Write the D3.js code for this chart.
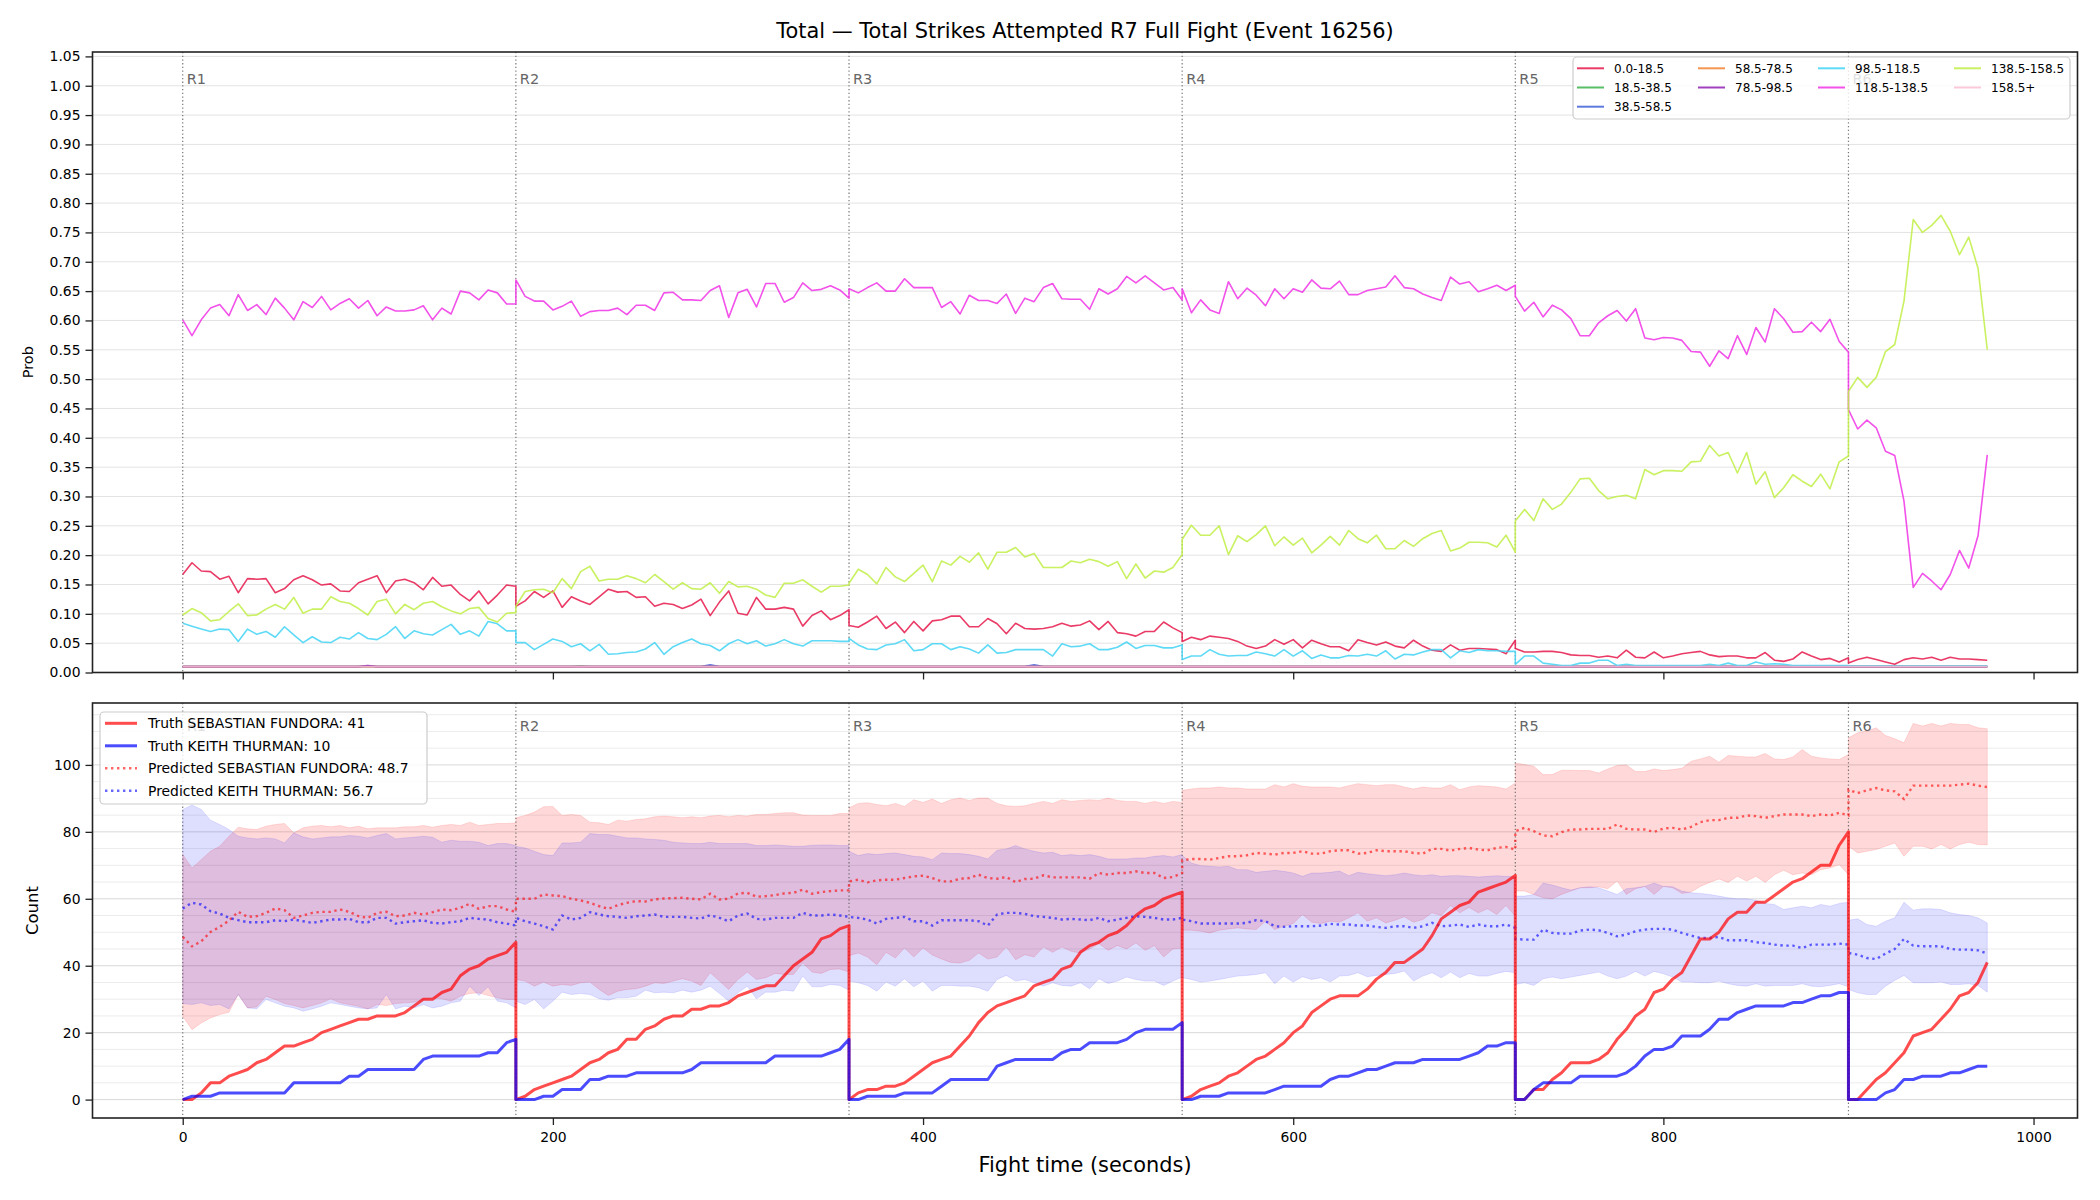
<!DOCTYPE html>
<html><head><meta charset="utf-8">
<script src="https://cdn.jsdelivr.net/npm/d3@7"></script>
<style>body{margin:0;background:#fff}svg{display:block}text{font-family:"DejaVu Sans",sans-serif}</style>
</head><body><svg id="c" width="2100" height="1200"></svg>
<script>
// ---------------- DATA ----------------
const TITLE = "Total \u2014 Total Strikes Attempted R7 Full Fight (Event 16256)";
const ROUND_STARTS = [0,180,360,540,720,900];
const ROUND_NAMES = ["R1","R2","R3","R4","R5","R6"];
const STEP = 5;
const X_TICKS = [0,200,400,600,800,1000];
const TOP_Y_TICKS = [0,0.05,0.10,0.15,0.20,0.25,0.30,0.35,0.40,0.45,0.50,0.55,0.60,0.65,0.70,0.75,0.80,0.85,0.90,0.95,1.00,1.05];
const BOT_Y_TICKS = [0,20,40,60,80,100];
const BINS = ["0.0-18.5","18.5-38.5","38.5-58.5","58.5-78.5","78.5-98.5","98.5-118.5","118.5-138.5","138.5-158.5","158.5+"];
const BIN_COLORS = ["#e6194b","#3cb44b","#4363d8","#f58231","#911eb4","#42d4f4","#f032e6","#bfef45","#fabed4"];

const prob_0_18 = [
[0.167,0.187,0.173,0.172,0.159,0.164,0.136,0.160,0.159,0.160,0.136,0.143,0.158,0.165,0.158,0.149,0.151,0.139,0.138,0.153,0.159,0.165,0.136,0.156,0.159,0.153,0.141,0.162,0.147,0.149,0.133,0.122,0.139,0.117,0.132,0.149,0.147],
[0.113,0.122,0.138,0.128,0.139,0.111,0.129,0.122,0.116,0.129,0.142,0.137,0.138,0.128,0.129,0.113,0.118,0.116,0.109,0.115,0.125,0.097,0.120,0.139,0.101,0.098,0.128,0.108,0.108,0.111,0.108,0.079,0.097,0.105,0.090,0.097,0.107],
[0.080,0.077,0.086,0.096,0.075,0.086,0.068,0.087,0.071,0.088,0.090,0.096,0.096,0.078,0.078,0.092,0.083,0.066,0.084,0.075,0.074,0.075,0.078,0.084,0.079,0.081,0.088,0.073,0.087,0.068,0.066,0.062,0.070,0.070,0.086,0.076,0.068],
[0.053,0.060,0.056,0.062,0.060,0.058,0.053,0.045,0.041,0.045,0.056,0.048,0.056,0.042,0.055,0.049,0.044,0.044,0.037,0.056,0.051,0.047,0.052,0.045,0.042,0.055,0.045,0.038,0.036,0.047,0.038,0.041,0.041,0.040,0.039,0.032,0.055],
[0.041,0.035,0.035,0.036,0.036,0.034,0.030,0.029,0.029,0.026,0.028,0.025,0.038,0.026,0.025,0.035,0.025,0.028,0.032,0.034,0.036,0.030,0.027,0.028,0.028,0.025,0.025,0.034,0.021,0.019,0.023,0.035,0.028,0.022,0.024,0.018,0.025],
[0.016,0.022,0.026,0.022,0.018,0.014,0.022,0.025,0.023,0.026,0.021,0.026,0.023,0.023,0.022,0.021]];
const prob_18_38 = [
[0.010,0.010,0.010,0.010,0.010,0.010,0.010,0.010,0.010,0.010,0.010,0.010,0.010,0.010,0.010,0.010,0.010,0.010,0.010,0.010,0.010,0.010,0.010,0.010,0.010,0.010,0.010,0.010,0.010,0.010,0.010,0.010,0.010,0.010,0.010,0.010,0.010],
[0.010,0.010,0.010,0.010,0.010,0.010,0.010,0.011,0.010,0.010,0.010,0.010,0.010,0.010,0.010,0.010,0.010,0.010,0.010,0.010,0.010,0.010,0.010,0.010,0.010,0.010,0.010,0.010,0.010,0.010,0.010,0.010,0.010,0.010,0.010,0.010,0.010],
[0.010,0.010,0.010,0.010,0.010,0.010,0.010,0.010,0.010,0.010,0.010,0.010,0.010,0.010,0.010,0.010,0.010,0.010,0.010,0.010,0.010,0.010,0.010,0.010,0.010,0.010,0.010,0.010,0.010,0.010,0.010,0.010,0.010,0.010,0.010,0.010,0.010],
[0.010,0.010,0.010,0.010,0.010,0.010,0.010,0.010,0.010,0.010,0.010,0.010,0.010,0.010,0.010,0.010,0.010,0.010,0.010,0.010,0.010,0.010,0.010,0.010,0.010,0.010,0.010,0.010,0.010,0.010,0.010,0.010,0.010,0.010,0.010,0.010,0.010],
[0.010,0.010,0.010,0.010,0.010,0.010,0.010,0.010,0.010,0.010,0.010,0.010,0.010,0.010,0.010,0.010,0.010,0.010,0.010,0.010,0.010,0.010,0.010,0.010,0.010,0.010,0.010,0.010,0.010,0.010,0.010,0.010,0.010,0.010,0.010,0.010,0.010],
[0.010,0.010,0.010,0.010,0.010,0.010,0.010,0.010,0.010,0.010,0.010,0.010,0.010,0.010,0.010,0.010]];
const prob_38_58 = [
[0.010,0.010,0.010,0.010,0.010,0.010,0.010,0.010,0.010,0.010,0.010,0.010,0.010,0.010,0.010,0.010,0.010,0.010,0.010,0.010,0.010,0.010,0.010,0.010,0.010,0.010,0.010,0.010,0.010,0.010,0.010,0.010,0.010,0.010,0.010,0.010,0.010],
[0.010,0.010,0.010,0.010,0.010,0.010,0.010,0.010,0.010,0.010,0.010,0.010,0.010,0.010,0.010,0.010,0.010,0.010,0.010,0.010,0.010,0.013,0.010,0.010,0.010,0.010,0.010,0.010,0.010,0.010,0.010,0.010,0.010,0.010,0.010,0.010,0.010],
[0.010,0.010,0.010,0.010,0.010,0.010,0.010,0.010,0.010,0.010,0.010,0.010,0.010,0.010,0.010,0.010,0.010,0.010,0.010,0.010,0.013,0.010,0.010,0.010,0.010,0.010,0.010,0.010,0.010,0.010,0.010,0.010,0.010,0.010,0.010,0.010,0.010],
[0.010,0.010,0.010,0.010,0.010,0.010,0.010,0.010,0.010,0.010,0.010,0.010,0.010,0.010,0.010,0.010,0.010,0.010,0.010,0.010,0.010,0.010,0.010,0.010,0.010,0.010,0.010,0.010,0.010,0.010,0.010,0.010,0.010,0.010,0.010,0.010,0.010],
[0.010,0.010,0.010,0.010,0.010,0.010,0.010,0.010,0.010,0.010,0.010,0.010,0.010,0.010,0.010,0.010,0.010,0.010,0.010,0.010,0.010,0.010,0.010,0.010,0.010,0.010,0.010,0.010,0.010,0.010,0.010,0.010,0.010,0.010,0.010,0.010,0.010],
[0.010,0.010,0.010,0.010,0.010,0.010,0.010,0.010,0.010,0.010,0.010,0.010,0.010,0.010,0.010,0.010]];
const prob_58_78 = [
[0.010,0.010,0.010,0.010,0.010,0.010,0.010,0.010,0.010,0.010,0.010,0.010,0.010,0.010,0.010,0.010,0.010,0.010,0.010,0.010,0.010,0.010,0.010,0.010,0.010,0.010,0.010,0.010,0.010,0.010,0.010,0.010,0.010,0.010,0.010,0.010,0.010],
[0.010,0.010,0.010,0.010,0.010,0.010,0.010,0.010,0.010,0.010,0.010,0.010,0.010,0.010,0.010,0.010,0.010,0.010,0.010,0.010,0.010,0.010,0.010,0.010,0.010,0.010,0.010,0.010,0.010,0.010,0.010,0.010,0.010,0.010,0.010,0.010,0.010],
[0.010,0.010,0.010,0.010,0.010,0.010,0.010,0.010,0.010,0.010,0.010,0.010,0.010,0.010,0.010,0.010,0.010,0.010,0.010,0.010,0.010,0.010,0.010,0.010,0.010,0.010,0.010,0.010,0.010,0.010,0.010,0.010,0.010,0.010,0.010,0.010,0.010],
[0.010,0.010,0.010,0.010,0.010,0.010,0.010,0.010,0.010,0.010,0.010,0.010,0.010,0.010,0.010,0.010,0.010,0.010,0.010,0.010,0.010,0.010,0.010,0.010,0.010,0.010,0.010,0.010,0.010,0.010,0.010,0.010,0.010,0.010,0.010,0.010,0.010],
[0.010,0.010,0.010,0.010,0.010,0.010,0.010,0.010,0.010,0.010,0.010,0.010,0.010,0.010,0.010,0.010,0.010,0.010,0.010,0.010,0.010,0.010,0.010,0.010,0.010,0.010,0.010,0.010,0.010,0.010,0.010,0.010,0.010,0.010,0.010,0.010,0.010],
[0.010,0.010,0.010,0.010,0.010,0.010,0.010,0.010,0.010,0.010,0.010,0.010,0.010,0.010,0.010,0.010]];
const prob_78_98 = [
[0.010,0.010,0.010,0.010,0.010,0.010,0.010,0.010,0.010,0.010,0.010,0.010,0.010,0.010,0.010,0.010,0.010,0.010,0.010,0.010,0.012,0.010,0.010,0.010,0.010,0.010,0.010,0.010,0.010,0.010,0.010,0.010,0.010,0.010,0.010,0.010,0.010],
[0.010,0.010,0.010,0.010,0.010,0.010,0.010,0.010,0.010,0.010,0.010,0.010,0.010,0.010,0.010,0.010,0.010,0.010,0.010,0.010,0.010,0.010,0.010,0.010,0.010,0.010,0.010,0.010,0.010,0.010,0.010,0.010,0.010,0.010,0.010,0.010,0.010],
[0.010,0.010,0.010,0.010,0.010,0.010,0.010,0.010,0.010,0.010,0.010,0.010,0.010,0.010,0.010,0.010,0.010,0.010,0.010,0.010,0.010,0.010,0.010,0.010,0.010,0.010,0.010,0.010,0.010,0.010,0.010,0.010,0.010,0.010,0.010,0.010,0.010],
[0.010,0.010,0.010,0.010,0.010,0.010,0.010,0.010,0.010,0.010,0.010,0.010,0.010,0.010,0.010,0.010,0.010,0.010,0.010,0.010,0.010,0.010,0.010,0.010,0.010,0.010,0.010,0.010,0.010,0.010,0.010,0.010,0.010,0.010,0.010,0.010,0.010],
[0.010,0.010,0.010,0.010,0.010,0.010,0.010,0.010,0.010,0.010,0.010,0.010,0.010,0.010,0.010,0.010,0.010,0.010,0.010,0.010,0.010,0.010,0.010,0.010,0.010,0.010,0.010,0.010,0.010,0.010,0.010,0.010,0.010,0.010,0.010,0.010,0.010],
[0.010,0.010,0.010,0.010,0.010,0.010,0.010,0.010,0.010,0.010,0.010,0.010,0.010,0.010,0.010,0.010]];
const prob_98_118 = [
[0.084,0.079,0.074,0.070,0.074,0.073,0.053,0.074,0.065,0.070,0.060,0.078,0.064,0.051,0.061,0.052,0.051,0.060,0.057,0.068,0.058,0.056,0.065,0.078,0.058,0.071,0.066,0.064,0.073,0.082,0.065,0.071,0.062,0.087,0.083,0.071,0.071],
[0.051,0.051,0.039,0.048,0.057,0.053,0.044,0.049,0.037,0.048,0.031,0.032,0.034,0.035,0.040,0.051,0.031,0.044,0.051,0.057,0.049,0.046,0.037,0.049,0.056,0.049,0.054,0.045,0.049,0.056,0.049,0.045,0.054,0.054,0.054,0.053,0.053],
[0.058,0.047,0.040,0.039,0.047,0.049,0.056,0.037,0.039,0.049,0.049,0.039,0.044,0.040,0.033,0.047,0.033,0.034,0.039,0.039,0.039,0.039,0.028,0.049,0.044,0.045,0.049,0.039,0.039,0.043,0.052,0.041,0.046,0.046,0.042,0.042,0.047],
[0.022,0.028,0.028,0.039,0.031,0.028,0.029,0.029,0.035,0.032,0.028,0.039,0.028,0.037,0.024,0.030,0.025,0.025,0.029,0.028,0.031,0.028,0.037,0.023,0.031,0.030,0.035,0.039,0.039,0.025,0.037,0.034,0.039,0.037,0.037,0.036,0.036],
[0.014,0.028,0.028,0.016,0.014,0.012,0.012,0.016,0.016,0.021,0.021,0.012,0.014,0.012,0.012,0.012,0.012,0.012,0.012,0.012,0.012,0.014,0.012,0.016,0.012,0.012,0.018,0.014,0.015,0.014,0.012,0.012,0.012,0.012,0.012,0.012,0.012],
[0.011,0.011,0.011,0.011,0.011,0.011,0.011,0.011,0.011,0.011,0.011,0.011,0.011,0.011,0.011,0.011]];
const prob_118_138 = [
[0.601,0.574,0.601,0.621,0.627,0.608,0.644,0.617,0.627,0.610,0.638,0.621,0.601,0.632,0.622,0.641,0.618,0.629,0.637,0.621,0.634,0.608,0.623,0.616,0.616,0.618,0.625,0.601,0.621,0.611,0.650,0.647,0.635,0.652,0.647,0.628,0.628],
[0.669,0.641,0.633,0.633,0.618,0.624,0.633,0.607,0.615,0.617,0.617,0.621,0.610,0.626,0.626,0.617,0.647,0.648,0.635,0.635,0.634,0.651,0.659,0.605,0.647,0.653,0.623,0.663,0.663,0.631,0.639,0.664,0.651,0.653,0.659,0.652,0.638],
[0.654,0.647,0.656,0.664,0.650,0.650,0.671,0.656,0.656,0.656,0.622,0.632,0.611,0.643,0.634,0.634,0.629,0.645,0.612,0.638,0.632,0.656,0.663,0.637,0.636,0.636,0.619,0.654,0.645,0.654,0.675,0.664,0.676,0.664,0.652,0.656,0.635],
[0.654,0.613,0.635,0.618,0.612,0.666,0.637,0.655,0.643,0.625,0.654,0.637,0.654,0.648,0.669,0.655,0.654,0.667,0.644,0.644,0.651,0.654,0.657,0.676,0.656,0.654,0.645,0.639,0.634,0.674,0.662,0.666,0.649,0.654,0.660,0.651,0.660],
[0.641,0.616,0.631,0.606,0.626,0.618,0.603,0.574,0.574,0.596,0.608,0.617,0.599,0.620,0.570,0.567,0.571,0.570,0.566,0.547,0.546,0.522,0.548,0.535,0.574,0.542,0.588,0.563,0.620,0.603,0.580,0.581,0.597,0.581,0.602,0.564,0.546],
[0.448,0.415,0.430,0.417,0.377,0.370,0.292,0.145,0.169,0.156,0.141,0.167,0.208,0.178,0.233,0.371]];
const prob_138_158 = [
[0.098,0.109,0.102,0.088,0.090,0.104,0.117,0.097,0.098,0.108,0.116,0.108,0.128,0.101,0.108,0.108,0.129,0.121,0.118,0.109,0.098,0.121,0.125,0.100,0.116,0.107,0.118,0.121,0.112,0.105,0.100,0.109,0.111,0.092,0.086,0.101,0.102],
[0.113,0.138,0.141,0.142,0.136,0.160,0.143,0.172,0.181,0.156,0.159,0.159,0.165,0.160,0.153,0.167,0.155,0.142,0.153,0.143,0.142,0.153,0.135,0.155,0.146,0.147,0.142,0.132,0.128,0.152,0.152,0.158,0.147,0.137,0.147,0.147,0.149],
[0.152,0.176,0.167,0.151,0.179,0.163,0.155,0.169,0.183,0.155,0.190,0.183,0.198,0.188,0.204,0.176,0.205,0.205,0.213,0.197,0.203,0.179,0.179,0.179,0.190,0.187,0.193,0.189,0.181,0.189,0.160,0.185,0.161,0.173,0.171,0.179,0.201],
[0.227,0.251,0.234,0.234,0.250,0.201,0.233,0.223,0.235,0.250,0.216,0.231,0.217,0.229,0.204,0.217,0.232,0.217,0.242,0.228,0.221,0.234,0.211,0.211,0.225,0.215,0.228,0.237,0.242,0.207,0.212,0.222,0.222,0.221,0.214,0.234,0.205],
[0.258,0.278,0.259,0.296,0.278,0.287,0.307,0.330,0.331,0.310,0.296,0.300,0.302,0.296,0.346,0.337,0.344,0.344,0.343,0.359,0.360,0.387,0.369,0.375,0.340,0.375,0.321,0.342,0.298,0.315,0.337,0.326,0.317,0.338,0.313,0.359,0.369],
[0.479,0.503,0.486,0.503,0.547,0.559,0.633,0.772,0.750,0.762,0.779,0.752,0.712,0.742,0.689,0.550]];
const prob_158p = [
[0.010,0.010,0.010,0.010,0.010,0.010,0.010,0.010,0.010,0.010,0.010,0.010,0.010,0.010,0.010,0.010,0.010,0.010,0.010,0.010,0.010,0.010,0.010,0.010,0.010,0.010,0.010,0.010,0.010,0.010,0.010,0.010,0.010,0.010,0.010,0.010,0.010],
[0.010,0.010,0.010,0.010,0.010,0.010,0.010,0.010,0.010,0.010,0.010,0.010,0.010,0.010,0.010,0.010,0.010,0.010,0.010,0.010,0.010,0.010,0.010,0.010,0.010,0.010,0.010,0.010,0.010,0.010,0.010,0.010,0.010,0.010,0.010,0.010,0.010],
[0.010,0.010,0.010,0.010,0.010,0.010,0.010,0.010,0.010,0.010,0.010,0.010,0.010,0.010,0.010,0.010,0.010,0.010,0.010,0.010,0.010,0.010,0.010,0.010,0.010,0.010,0.010,0.010,0.010,0.010,0.010,0.010,0.010,0.010,0.010,0.010,0.010],
[0.010,0.010,0.010,0.010,0.010,0.010,0.010,0.010,0.010,0.010,0.010,0.010,0.010,0.010,0.010,0.010,0.010,0.010,0.010,0.010,0.010,0.010,0.010,0.010,0.010,0.010,0.010,0.010,0.010,0.010,0.010,0.010,0.010,0.010,0.010,0.010,0.010],
[0.010,0.010,0.010,0.010,0.010,0.010,0.010,0.010,0.010,0.010,0.010,0.010,0.010,0.010,0.010,0.010,0.010,0.010,0.010,0.010,0.010,0.010,0.010,0.010,0.010,0.010,0.010,0.010,0.010,0.010,0.010,0.010,0.010,0.010,0.010,0.010,0.010],
[0.010,0.010,0.010,0.010,0.010,0.010,0.010,0.010,0.010,0.010,0.010,0.010,0.010,0.010,0.010,0.010]];

const FIGHTERS = ["SEBASTIAN FUNDORA","KEITH THURMAN"];
const LEGEND_TRUTH = [41, 10];
const LEGEND_PRED = [48.7, 56.7];
const truth_fundora = [
[0,0,2,5,5,7,8,9,11,12,14,16,16,17,18,20,21,22,23,24,24,25,25,25,26,28,30,30,32,33,37,39,40,42,43,44,47],
[0,1,3,4,5,6,7,9,11,12,14,15,18,18,21,22,24,25,25,27,27,28,28,29,31,32,33,34,34,37,40,42,44,48,49,51,52],
[0,2,3,3,4,4,5,7,9,11,12,13,16,19,23,26,28,29,30,31,34,35,36,39,40,44,46,47,49,50,52,55,57,58,60,61,62],
[0,1,3,4,5,7,8,10,12,13,15,17,20,22,26,28,30,31,31,31,33,36,38,41,41,43,45,49,54,56,58,59,62,63,64,65,67],
[0,0,3,3,6,8,11,11,11,12,14,18,21,25,27,32,33,36,38,43,48,48,50,54,56,56,59,59,61,63,65,66,68,70,70,76,80],
[0,0,3,6,8,11,14,19,20,21,24,27,31,32,35,41]];
const truth_thurman = [
[0,1,1,1,2,2,2,2,2,2,2,2,5,5,5,5,5,5,7,7,9,9,9,9,9,9,12,13,13,13,13,13,13,14,14,17,18],
[0,0,0,1,1,3,3,3,6,6,7,7,7,8,8,8,8,8,8,9,11,11,11,11,11,11,11,11,13,13,13,13,13,13,14,15,18],
[0,0,1,1,1,1,2,2,2,2,4,6,6,6,6,6,10,11,12,12,12,12,12,14,15,15,17,17,17,17,18,20,21,21,21,21,23],
[0,0,1,1,1,2,2,2,2,2,3,4,4,4,4,4,6,7,7,8,9,9,10,11,11,11,12,12,12,12,12,13,14,16,16,17,17],
[0,0,3,5,5,5,5,7,7,7,7,7,8,10,13,15,15,16,19,19,19,21,24,24,26,27,28,28,28,28,29,29,30,31,31,32,32],
[0,0,0,0,2,3,6,6,7,7,7,8,8,9,10,10]];
const pred_fundora = [
[48.6,45.8,47.3,50.1,51.6,53.5,56.1,54.6,54.8,55.8,57.1,56.6,54.3,55.0,55.8,56.1,56.1,56.8,56.1,54.8,54.3,55.8,56.1,54.8,55.0,55.8,55.3,56.0,56.8,56.6,57.3,58.5,57.0,57.8,57.8,56.8,56.1],
[60.0,60.0,60.0,61.3,61.0,60.8,60.0,59.5,58.8,57.8,57.0,58.1,58.8,59.3,59.2,59.8,60.1,60.2,60.3,60.0,59.8,61.5,59.8,60.0,61.6,61.8,60.6,60.8,61.1,61.6,61.8,62.7,61.5,62.0,62.3,62.5,62.5],
[65.2,65.7,64.9,65.5,65.7,65.7,66.2,66.7,66.9,66.2,65.2,65.2,66.0,66.2,67.2,66.2,66.0,66.5,65.0,65.9,66.0,67.0,66.4,66.4,66.4,66.4,66.0,67.7,67.2,67.7,67.7,68.2,67.7,67.7,66.2,66.5,67.7],
[71.5,71.9,71.9,71.7,72.2,72.7,72.7,73.0,73.7,73.5,73.2,73.7,73.7,74.2,73.5,73.5,74.2,74.5,74.5,73.5,73.7,74.5,74.2,74.2,74.2,73.7,73.5,74.9,74.9,74.4,74.9,75.2,74.7,74.5,75.2,75.5,74.7],
[80.2,81.2,80.2,78.9,78.7,79.9,80.7,80.7,80.9,80.9,80.9,82.2,80.9,80.7,80.7,80.0,81.0,81.2,80.7,81.5,82.9,83.5,83.5,84.2,84.2,84.9,84.7,84.2,84.7,85.2,85.2,85.2,84.7,85.2,84.9,85.7,84.9],
[92.6,91.6,92.4,93.1,92.4,92.1,89.8,93.8,93.8,93.8,93.8,93.8,94.1,94.4,93.8,93.4]];
const pred_thurman = [
[57.1,58.8,58.3,56.3,55.6,54.3,53.6,53.0,53.0,53.0,53.6,53.3,53.8,53.3,52.8,53.3,53.8,53.8,54.0,53.0,53.0,54.3,54.3,52.6,53.0,53.3,53.6,52.8,52.6,53.0,53.3,54.3,54.0,53.8,53.0,52.6,52.0],
[54.3,53.3,52.6,51.8,50.8,55.0,53.8,54.3,56.0,55.3,54.8,54.6,54.3,54.8,55.0,55.3,54.6,54.6,54.6,54.3,54.1,55.1,54.3,53.3,55.0,55.6,54.0,53.8,54.3,54.3,54.3,55.8,55.0,55.0,55.3,55.0,54.6],
[54.6,54.3,53.8,52.6,54.0,54.3,54.6,53.3,53.3,52.0,53.6,53.6,53.6,53.6,53.3,52.0,55.3,55.8,55.8,55.5,54.8,54.6,54.3,53.8,54.0,53.8,53.6,54.3,53.3,53.8,54.3,54.8,54.6,54.3,53.8,53.8,54.3],
[53.8,53.3,52.6,52.6,52.6,52.6,52.6,52.8,53.6,53.3,51.8,51.6,51.8,51.8,51.8,52.0,52.5,52.3,52.3,52.0,52.0,51.6,51.3,51.8,51.8,51.3,51.8,52.8,51.8,52.0,52.3,51.6,52.3,51.8,51.8,52.3,51.3],
[48.0,47.8,47.8,50.8,49.8,49.6,49.6,50.5,50.8,50.6,49.8,48.8,49.3,50.3,50.8,51.0,51.0,50.8,49.8,49.0,48.3,48.3,48.6,47.6,47.6,47.6,47.0,46.8,46.3,46.0,46.0,45.3,46.3,46.3,46.3,46.6,46.3],
[43.8,43.3,42.3,42.0,43.6,45.0,48.0,46.0,45.8,45.8,45.8,45.0,44.8,44.8,44.6,43.6]];
const hi_fundora = [
[73.2,69.2,71.7,74.2,75.7,78.7,81.4,80.9,80.7,81.7,82.2,82.5,79.7,81.2,81.7,81.9,81.5,81.9,81.2,81.7,80.9,81.2,81.2,81.2,81.5,81.5,81.9,81.4,81.9,82.2,81.9,82.9,81.9,82.2,82.5,82.5,82.7],
[84.2,84.9,85.9,87.5,87.6,84.9,85.2,84.9,82.9,82.7,82.2,83.5,83.2,83.7,83.9,84.5,84.7,84.5,84.2,84.5,84.2,84.7,84.9,84.5,84.9,84.7,85.2,85.2,85.5,85.7,85.7,85.0,84.9,84.9,84.9,85.5,85.5],
[87.2,88.5,88.7,88.2,87.8,88.5,87.6,89.6,88.8,89.8,88.5,89.6,90.1,89.4,90.1,90.1,88.5,87.8,87.6,87.8,88.5,89.1,88.5,89.6,89.1,89.4,89.6,89.4,90.1,89.4,89.1,89.1,88.5,89.1,88.5,89.1,88.8],
[92.4,92.8,93.1,93.1,93.4,93.1,93.1,92.8,92.8,92.8,94.1,93.4,94.4,93.6,93.4,93.4,93.4,93.1,93.8,94.4,94.1,93.8,94.1,94.1,93.4,92.8,93.4,93.1,93.1,94.1,92.6,93.4,93.8,93.6,93.4,92.8,94.6],
[100.6,100.1,99.6,97.1,97.1,98.4,98.4,98.3,98.3,97.6,98.8,99.8,100.0,98.0,98.0,98.8,98.3,98.6,99.0,101.1,101.8,102.6,100.8,102.8,102.6,102.4,102.4,103.4,101.8,101.6,102.4,104.6,102.6,102.1,101.8,101.6,103.1],
[108.1,109.6,110.1,111.1,108.8,107.8,106.6,112.4,111.6,112.4,111.6,112.4,112.1,112.1,111.1,110.8]];
const lo_fundora = [
[24.9,20.9,22.9,24.4,25.4,26.1,31.4,27.4,27.7,30.9,29.9,28.7,28.1,27.4,28.1,28.9,30.1,28.9,28.4,27.9,27.1,28.4,28.1,28.7,28.9,29.1,29.9,30.4,30.1,29.4,30.9,31.7,31.9,31.1,30.4,29.9,29.9],
[35.9,35.4,33.9,35.1,33.9,34.4,34.1,34.9,35.1,32.9,31.1,32.4,32.9,33.1,33.9,34.9,34.7,35.4,36.1,35.4,34.1,37.9,35.4,32.9,35.9,38.1,35.9,36.4,37.7,37.4,37.4,40.8,38.1,37.7,38.9,39.0,38.1],
[43.0,43.8,42.6,40.3,44.0,42.3,45.3,42.6,45.3,43.2,42.0,41.0,40.8,41.6,43.8,42.0,42.6,45.6,41.8,43.3,42.6,45.6,44.0,45.6,44.3,43.8,45.0,46.6,44.6,46.0,45.0,46.8,44.6,46.0,42.6,45.0,45.3],
[50.6,50.6,50.3,49.8,50.6,51.0,51.3,51.0,50.8,53.3,50.8,51.8,52.6,55.3,53.0,52.6,53.3,53.0,54.3,55.8,53.3,54.3,52.8,53.6,54.6,53.0,53.8,55.8,55.0,58.0,55.8,57.4,55.8,57.0,55.3,58.0,54.8],
[62.3,62.3,61.3,60.3,60.0,61.3,62.3,63.3,63.3,63.6,63.0,65.3,61.3,63.0,63.7,61.3,63.7,63.3,61.6,62.0,63.7,64.9,65.9,64.9,66.7,65.3,66.7,64.9,67.2,68.5,67.2,67.7,67.2,68.7,69.2,70.2,67.2],
[75.7,73.7,74.2,74.7,75.7,76.7,72.7,75.7,75.7,74.9,76.2,74.9,76.2,76.9,76.2,76.1]];
const hi_thurman = [
[86.7,88.0,86.7,83.5,82.2,80.7,78.7,78.2,77.9,78.2,77.9,76.7,79.7,78.5,77.9,78.2,78.5,78.5,78.9,78.7,78.2,78.9,79.5,77.9,78.2,78.4,78.7,78.4,76.9,77.5,77.2,77.2,76.9,75.9,76.5,76.5,75.9],
[75.7,75.2,74.2,73.2,72.9,76.7,76.7,76.9,79.5,79.2,79.2,78.7,78.2,78.2,77.9,77.7,77.5,76.9,76.7,76.5,76.5,76.9,76.5,76.5,76.5,76.5,75.9,75.9,76.1,75.9,75.7,75.7,76.0,76.1,76.1,75.9,75.9],
[74.2,72.9,73.5,73.2,73.5,73.7,73.2,72.7,72.5,71.7,73.7,73.5,73.5,73.2,72.7,71.9,74.5,74.9,75.9,74.9,74.2,73.7,73.9,72.9,73.2,72.9,73.2,72.7,71.9,71.9,71.9,72.2,72.2,72.7,72.9,72.5,73.2],
[72.9,70.7,69.9,69.7,69.5,69.7,68.7,68.7,67.9,68.2,68.5,68.2,67.7,66.7,67.7,67.7,67.9,68.3,66.9,67.9,67.5,67.2,66.9,67.2,67.7,67.2,66.9,67.2,66.7,66.9,66.9,66.7,66.5,66.7,66.9,66.7,66.7],
[60.8,60.8,61.3,64.7,64.1,63.3,62.6,63.3,63.6,63.3,62.3,61.3,63.0,63.3,63.7,64.7,63.7,63.6,62.3,61.8,61.6,61.3,60.8,60.3,60.0,60.0,59.6,58.6,58.3,56.8,57.3,57.8,57.3,58.3,57.8,58.6,59.0],
[53.6,54.0,52.3,51.8,53.3,54.3,59.0,56.6,57.0,57.0,56.8,55.8,55.3,55.0,54.3,52.8]];
const lo_thurman = [
[28.7,28.4,28.9,28.1,28.4,27.1,31.4,27.4,27.1,29.9,28.9,27.9,27.4,26.4,27.1,27.9,28.9,28.4,27.9,27.4,27.1,27.4,31.4,27.1,27.9,27.4,28.4,27.4,27.9,28.9,29.4,33.9,31.1,33.7,29.4,28.9,27.4],
[29.4,28.4,29.9,27.1,29.4,32.1,31.4,31.7,31.4,30.1,29.7,30.4,30.4,30.9,32.7,31.9,32.1,31.9,32.7,32.1,32.7,33.9,31.7,29.4,31.9,33.9,30.1,32.1,32.1,32.7,32.4,36.9,33.7,33.7,34.4,34.1,32.7],
[35.4,34.9,34.1,32.4,35.1,33.9,36.1,33.7,35.4,32.4,34.1,34.1,33.9,33.9,33.4,32.4,35.9,37.1,35.4,35.9,34.9,33.9,34.9,34.1,33.9,34.9,33.1,36.1,34.7,35.4,36.6,35.9,35.4,35.4,34.1,35.4,36.6],
[36.4,35.9,35.1,35.4,35.9,36.4,36.9,37.1,37.4,37.9,34.6,36.9,35.1,36.7,35.9,36.4,35.1,36.9,37.1,37.9,36.7,37.1,37.4,37.7,38.4,35.4,36.9,37.9,36.4,38.1,36.4,37.7,36.9,36.9,37.7,38.3,37.9],
[34.4,34.9,34.1,36.1,36.6,36.1,36.6,37.1,37.6,38.1,36.9,36.1,36.9,38.3,36.9,38.3,37.6,36.6,35.1,35.1,34.9,34.9,35.4,34.6,34.1,33.9,34.6,33.9,34.1,34.1,34.1,34.6,33.9,33.7,34.1,34.6,33.7],
[32.9,31.9,31.4,31.4,33.9,35.6,37.1,34.9,34.9,34.9,35.1,34.4,34.4,34.6,34.1,32.1]];

// ---------------- DRAW ----------------
const svg = d3.select("#c");
const X0 = 92.5, X1 = 2077.5;
const TOP = {y0: 52, y1: 672.5};
const BOT = {y0: 703, y1: 1118};
const FONT = "DejaVu Sans";

const x = d3.scaleLinear().domain([-48.75, 1023.75]).range([X0, X1]);
const yT = d3.scaleLinear().domain([0, 1.0575]).range([TOP.y1, TOP.y0]);
const yB = d3.scaleLinear().domain([-5.5, 118.5]).range([BOT.y1, BOT.y0]);

function pts(series){
  const out = [];
  series.forEach((arr, r) => arr.forEach((v, k) => out.push([ROUND_STARTS[r] + STEP*k, v])));
  return out;
}
function band(lo, hi){
  const out = [];
  lo.forEach((arr, r) => arr.forEach((v, k) => out.push([ROUND_STARTS[r] + STEP*k, v, hi[r][k]])));
  return out;
}

svg.append("rect").attr("width",2100).attr("height",1200).attr("fill","#fff");

// title
svg.append("text").attr("x",(X0+X1)/2).attr("y",38).attr("text-anchor","middle")
  .attr("font-size",20.9).attr("font-family",FONT).attr("fill","#000").text(TITLE);

// ---------- TOP PANEL ----------
const gT = svg.append("g");
gT.selectAll("line.grid").data(TOP_Y_TICKS).enter().append("line")
  .attr("x1",X0).attr("x2",X1).attr("y1",d=>yT(d)).attr("y2",d=>yT(d))
  .attr("stroke","#e3e3e3").attr("stroke-width",1);

ROUND_STARTS.forEach((s,i)=>{
  gT.append("line").attr("x1",x(s)).attr("x2",x(s)).attr("y1",TOP.y0).attr("y2",TOP.y1)
    .attr("stroke","#555").attr("stroke-opacity",0.8).attr("stroke-width",1.2).attr("stroke-dasharray","1.3,2.4");
  gT.append("text").attr("x",x(s)+4).attr("y",83.5).attr("font-size",14.5).attr("font-family",FONT)
    .attr("fill","#666").text(ROUND_NAMES[i]);
});

const topSeries = [prob_0_18, prob_18_38, prob_38_58, prob_58_78, prob_78_98, prob_98_118, prob_118_138, prob_138_158, prob_158p];
const lineT = d3.line().x(d=>x(d[0])).y(d=>yT(d[1]));
topSeries.forEach((s,i)=>{
  gT.append("path").attr("d",lineT(pts(s))).attr("fill","none")
    .attr("stroke",BIN_COLORS[i]).attr("stroke-opacity",0.85).attr("stroke-width",1.6)
    .attr("stroke-linejoin","round");
});

// top legend
const lgT = svg.append("g");
lgT.append("rect").attr("x",1573).attr("y",57).attr("width",497).attr("height",62).attr("rx",4)
  .attr("fill","#fff").attr("fill-opacity",0.8).attr("stroke","#cccccc").attr("stroke-width",1.2);
const legColX = [1577, 1698, 1818, 1954];
const legRowY = [68.3, 87.5, 106.7];
const legLayout = [[0,0],[0,1],[0,2],[1,0],[1,1],[2,0],[2,1],[3,0],[3,1]];
BINS.forEach((b,i)=>{
  const [c,r] = legLayout[i];
  const lx = legColX[c], ly = legRowY[r];
  lgT.append("line").attr("x1",lx).attr("x2",lx+27).attr("y1",ly).attr("y2",ly)
    .attr("stroke",BIN_COLORS[i]).attr("stroke-opacity",0.85).attr("stroke-width",2);
  lgT.append("text").attr("x",lx+37).attr("y",ly).attr("dy","0.35em").attr("font-size",12)
    .attr("font-family",FONT).attr("fill","#000").text(b);
});

// top axes
gT.append("rect").attr("x",X0).attr("y",TOP.y0).attr("width",X1-X0).attr("height",TOP.y1-TOP.y0)
  .attr("fill","none").attr("stroke","#222").attr("stroke-width",1.6);
function styleAxis(g){
  g.select(".domain").remove();
  g.selectAll("text").attr("font-size",13.9).attr("font-family",FONT).attr("fill","#000");
  g.selectAll("line").attr("stroke","#222").attr("stroke-width",1.3);
}
svg.append("g").attr("transform",`translate(${X0},0)`)
  .call(d3.axisLeft(yT).tickValues(TOP_Y_TICKS).tickFormat(d3.format(".2f")).tickSize(7).tickPadding(5))
  .call(styleAxis);
svg.append("g").attr("transform",`translate(0,${TOP.y1})`)
  .call(d3.axisBottom(x).tickValues(X_TICKS).tickFormat("").tickSize(7))
  .call(styleAxis);
svg.append("text").attr("transform",`translate(28,${(TOP.y0+TOP.y1)/2}) rotate(-90)`)
  .attr("text-anchor","middle").attr("dy","0.35em").attr("font-size",14.5).attr("font-family",FONT).text("Prob");

// ---------- BOTTOM PANEL ----------
const gB = svg.append("g");
d3.range(0,120,5).forEach(v=>{
  gB.append("line").attr("x1",X0).attr("x2",X1).attr("y1",yB(v)).attr("y2",yB(v))
    .attr("stroke", v%20===0 ? "#d9d9d9" : "#ececec").attr("stroke-width",1);
});

const area = d3.area().x(d=>x(d[0])).y0(d=>yB(d[1])).y1(d=>yB(d[2]));
gB.append("path").attr("d",area(band(lo_fundora,hi_fundora)))
  .attr("fill","#ff0000").attr("fill-opacity",0.15).attr("stroke","#ff0000").attr("stroke-opacity",0.12).attr("stroke-width",1);
gB.append("path").attr("d",area(band(lo_thurman,hi_thurman)))
  .attr("fill","#0000ff").attr("fill-opacity",0.13).attr("stroke","#0000ff").attr("stroke-opacity",0.1).attr("stroke-width",1);

ROUND_STARTS.forEach((s,i)=>{
  gB.append("line").attr("x1",x(s)).attr("x2",x(s)).attr("y1",BOT.y0).attr("y2",BOT.y1)
    .attr("stroke","#555").attr("stroke-opacity",0.8).attr("stroke-width",1.2).attr("stroke-dasharray","1.3,2.4");
  gB.append("text").attr("x",x(s)+4).attr("y",730.5).attr("font-size",14.5).attr("font-family",FONT)
    .attr("fill","#666").text(ROUND_NAMES[i]);
});

const lineB = d3.line().x(d=>x(d[0])).y(d=>yB(d[1]));
gB.append("path").attr("d",lineB(pts(pred_fundora))).attr("fill","none")
  .attr("stroke","#ff0000").attr("stroke-opacity",0.6).attr("stroke-width",2.4).attr("stroke-dasharray","2.4,3.6");
gB.append("path").attr("d",lineB(pts(pred_thurman))).attr("fill","none")
  .attr("stroke","#0000ff").attr("stroke-opacity",0.6).attr("stroke-width",2.4).attr("stroke-dasharray","2.4,3.6");
gB.append("path").attr("d",lineB(pts(truth_fundora))).attr("fill","none")
  .attr("stroke","#ff0000").attr("stroke-opacity",0.7).attr("stroke-width",3).attr("stroke-linejoin","round");
gB.append("path").attr("d",lineB(pts(truth_thurman))).attr("fill","none")
  .attr("stroke","#0000ff").attr("stroke-opacity",0.7).attr("stroke-width",3).attr("stroke-linejoin","round");

// bottom legend
const lgB = svg.append("g");
lgB.append("rect").attr("x",100).attr("y",712).attr("width",327).attr("height",92).attr("rx",4)
  .attr("fill","#fff").attr("fill-opacity",0.8).attr("stroke","#cccccc").attr("stroke-width",1.2);
const legB = [
  {label:`Truth ${FIGHTERS[0]}: ${LEGEND_TRUTH[0]}`, color:"#ff0000", op:0.7, dash:null, w:3},
  {label:`Truth ${FIGHTERS[1]}: ${LEGEND_TRUTH[1]}`, color:"#0000ff", op:0.7, dash:null, w:3},
  {label:`Predicted ${FIGHTERS[0]}: ${LEGEND_PRED[0]}`, color:"#ff0000", op:0.6, dash:"2.4,3.6", w:2.4},
  {label:`Predicted ${FIGHTERS[1]}: ${LEGEND_PRED[1]}`, color:"#0000ff", op:0.6, dash:"2.4,3.6", w:2.4}];
const legBY = [723.3, 745.8, 768.3, 790.8];
legB.forEach((e,i)=>{
  const l = lgB.append("line").attr("x1",105).attr("x2",137).attr("y1",legBY[i]).attr("y2",legBY[i])
    .attr("stroke",e.color).attr("stroke-opacity",e.op).attr("stroke-width",e.w);
  if(e.dash) l.attr("stroke-dasharray",e.dash);
  lgB.append("text").attr("x",148).attr("y",legBY[i]).attr("dy","0.35em").attr("font-size",13.9)
    .attr("font-family",FONT).attr("fill","#000").text(e.label);
});

// bottom axes
gB.append("rect").attr("x",X0).attr("y",BOT.y0).attr("width",X1-X0).attr("height",BOT.y1-BOT.y0)
  .attr("fill","none").attr("stroke","#222").attr("stroke-width",1.6);
svg.append("g").attr("transform",`translate(${X0},0)`)
  .call(d3.axisLeft(yB).tickValues(BOT_Y_TICKS).tickFormat(d3.format("d")).tickSize(7).tickPadding(5))
  .call(styleAxis);
svg.append("g").attr("transform",`translate(0,${BOT.y1})`)
  .call(d3.axisBottom(x).tickValues(X_TICKS).tickFormat(d3.format("d")).tickSize(7).tickPadding(7))
  .call(styleAxis);
svg.append("text").attr("transform",`translate(32,${(BOT.y0+BOT.y1)/2}) rotate(-90)`)
  .attr("text-anchor","middle").attr("dy","0.35em").attr("font-size",16.5).attr("font-family",FONT).text("Count");
svg.append("text").attr("x",(X0+X1)/2).attr("y",1172).attr("text-anchor","middle")
  .attr("font-size",20.9).attr("font-family",FONT).attr("fill","#000").text("Fight time (seconds)");
</script></body></html>
